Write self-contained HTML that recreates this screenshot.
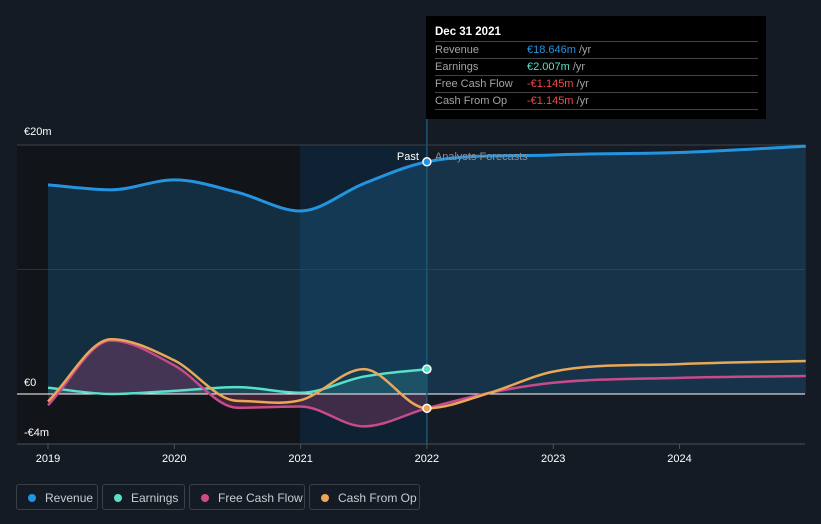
<!DOCTYPE html>
<html><head><meta charset="utf-8"><style>
body{margin:0;background:#151b24;font-family:"Liberation Sans",sans-serif;width:821px;height:524px;overflow:hidden;position:relative}
svg{position:absolute;left:0;top:0}
.tt{position:absolute;left:426px;top:16px;width:340px;height:103px;background:#000;color:#fff;font-size:11px}
.tt .h{position:absolute;left:9px;top:10px;font-weight:bold;font-size:11.5px}
.row{position:absolute;left:9px;width:323px;border-top:1px solid #444;height:16px;line-height:17px;color:#a0a4aa}
.row span{position:absolute;left:92px}
.leg{position:absolute;top:484px;height:26px;border:1px solid #3a4049;border-radius:3px;color:#c8ccd2;font-size:12px;line-height:26px;box-sizing:border-box}
.leg i{position:absolute;left:11px;top:9px;width:8px;height:8px;border-radius:50%}
</style></head><body>
<svg width="821" height="524" id="chart"></svg>
<div class="tt">
<div class="h">Dec 31 2021</div>
<div class="row" style="top:25px">Revenue<span><b style="font-weight:normal;color:#2394df">€18.646m</b> /yr</span></div>
<div class="row" style="top:42px">Earnings<span><b style="font-weight:normal;color:#58e0c8">€2.007m</b> /yr</span></div>
<div class="row" style="top:59px">Free Cash Flow<span><b style="font-weight:normal;color:#f04a4a">-€1.145m</b> /yr</span></div>
<div class="row" style="top:76px">Cash From Op<span><b style="font-weight:normal;color:#f04a4a">-€1.145m</b> /yr</span></div>
<div class="row" style="top:93px;border-top:1px solid #444"></div>
</div>
<div class="leg" style="left:16px;width:82px"><i style="background:#2394df"></i><span style="position:absolute;left:28px">Revenue</span></div>
<div class="leg" style="left:102px;width:83px"><i style="background:#58e0c8"></i><span style="position:absolute;left:28px">Earnings</span></div>
<div class="leg" style="left:189px;width:116px"><i style="background:#d04a8a"></i><span style="position:absolute;left:28px">Free Cash Flow</span></div>
<div class="leg" style="left:309px;width:111px"><i style="background:#e8a857"></i><span style="position:absolute;left:28px">Cash From Op</span></div>
<script>
const revX=[2019,2019.5,2020,2020.5,2021,2021.5,2022,2023,2024,2025];
const revY=[16.8,16.4,17.2,16.2,14.7,16.9,18.65,19.2,19.4,19.9];
const earnX=[2019,2019.5,2020,2020.5,2021,2021.5,2022];
const earnY=[0.5,0,0.25,0.55,0.1,1.4,2.0];
const fcfX=[2019,2019.5,2020,2020.5,2021,2021.5,2022,2022.5,2023,2024,2025];
const fcfY=[-0.9,4.3,2.3,-1.1,-1.0,-2.6,-1.15,0.1,0.9,1.3,1.45];
const cfoX=[2019,2019.5,2020,2020.5,2021,2021.5,2022,2022.5,2023,2024,2025];
const cfoY=[-0.6,4.4,2.7,-0.55,-0.5,2.0,-1.15,0.1,1.8,2.4,2.65];
const yTicks=[20,0,-4];const yLabels=["€20m","€0","-€4m"];
const xTicks=[2019,2020,2021,2022,2023,2024];
const X=t=>48+(t-2019)*126.3, Y=v=>394-v*12.45;
const svg=document.getElementById('chart');const NS='http://www.w3.org/2000/svg';
function el(tag,a,txt){const e=document.createElementNS(NS,tag);for(const k in a)e.setAttribute(k,a[k]);if(txt!==undefined)e.textContent=txt;svg.appendChild(e);return e;}
function path(xs,ys){const p=xs.map((x,i)=>[X(x),Y(ys[i])]);const n=p.length;
const d0=[],m=[];for(let i=0;i<n-1;i++)d0.push((p[i+1][1]-p[i][1])/(p[i+1][0]-p[i][0]));
for(let i=0;i<n;i++){if(i==0)m.push(d0[0]);else if(i==n-1)m.push(d0[n-2]);else m.push(d0[i-1]*d0[i]<=0?0:(d0[i-1]+d0[i])/2);}
let d=`M${p[0][0]},${p[0][1]}`;
for(let i=0;i<n-1;i++){const h=(p[i+1][0]-p[i][0])/3;
d+=` C${p[i][0]+h},${p[i][1]+m[i]*h} ${p[i+1][0]-h},${p[i+1][1]-m[i+1]*h} ${p[i+1][0]},${p[i+1][1]}`;}return d;}
let e;
e=el('rect',{x:17,y:145,width:283,height:299,fill:'#111419'});
e=el('rect',{x:300,y:145,width:127,height:299,fill:'#0f2233'});
e=el('line',{x1:17,x2:805,y1:Y(20),y2:Y(20),stroke:'#3a4049'});
e=el('line',{x1:17,x2:805,y1:Y(10),y2:Y(10),stroke:'#2a3039'});
const rd=path(revX,revY);
const defs=el('defs',{});const cp=document.createElementNS(NS,'clipPath');cp.setAttribute('id','pc');const cr=document.createElementNS(NS,'rect');cr.setAttribute('x',0);cr.setAttribute('y',0);cr.setAttribute('width',X(2022));cr.setAttribute('height',524);cp.appendChild(cr);defs.appendChild(cp);
e=el('path',{d:rd+` L${X(2025)},${Y(0)} L${X(2019)},${Y(0)} Z`,fill:'rgba(35,148,223,0.2)'});
const cutX=X(2022);
e=el('path',{d:path(fcfX,fcfY)+` L${X(2025)},${Y(0)} L${X(2019)},${Y(0)} Z`,fill:'rgba(208,74,138,0.25)','clip-path':'url(#pc)'});
e=el('path',{d:path(earnX,earnY)+` L${X(2022)},${Y(0)} L${X(2019)},${Y(0)} Z`,fill:'rgba(88,224,200,0.15)'});
e=el('line',{x1:17,x2:805,y1:Y(0),y2:Y(0),stroke:'#fff','stroke-width':1});
e=el('line',{x1:cutX,x2:cutX,y1:119,y2:444,stroke:'#1e5670','stroke-width':1.5});
e=el('path',{d:path(earnX,earnY),fill:'none',stroke:'#58e0c8','stroke-width':2.5});
e=el('path',{d:path(fcfX,fcfY),fill:'none',stroke:'#c84a8a','stroke-width':2.5});
e=el('path',{d:path(cfoX,cfoY),fill:'none',stroke:'#e8a857','stroke-width':2.5});
e=el('path',{d:rd,fill:'none',stroke:'#2394df','stroke-width':3});
[[revY[6],'#2394df'],[earnY[6],'#58e0c8'],[cfoY[6],'#e8a857']].forEach(([v,c])=>{e=el('circle',{cx:cutX,cy:Y(v),r:4,fill:c,stroke:'#fff','stroke-width':1.5});});
e=el('text',{x:cutX-8,y:160,fill:'#fff','font-size':11,'text-anchor':'end'},'Past');
e=el('text',{x:cutX+8,y:160,fill:'#8a9099','font-size':11},'Analysts Forecasts');
const yPos=[135,386,436];
yTicks.forEach((v,i)=>{e=el('text',{x:24,y:yPos[i],fill:'#fff','font-size':11},yLabels[i]);});
e=el('line',{x1:17,x2:805,y1:444,y2:444,stroke:'#4a5059'});
xTicks.forEach(t=>{e=el('line',{x1:X(t),x2:X(t),y1:444,y2:449,stroke:'#4a5059'});
e=el('text',{x:X(t),y:462,fill:'#fff','font-size':11,'text-anchor':'middle'},String(t));});
</script>
</body></html>
